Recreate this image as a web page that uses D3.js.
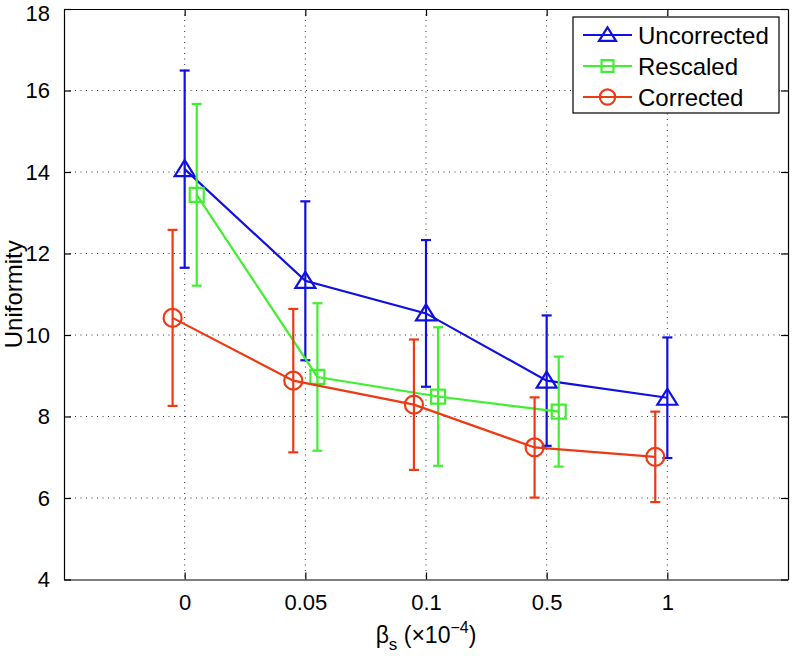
<!DOCTYPE html>
<html><head><meta charset="utf-8">
<script src="https://cdn.jsdelivr.net/npm/d3@7/dist/d3.min.js"></script>
<style>body{margin:0;background:#fff;} text{font-family:"Liberation Sans",Arial,Helvetica,sans-serif;fill:#000;}</style>
</head><body>
<svg id="c" width="792" height="656"></svg>
<script>
const categories = ["0", "0.05", "0.1", "0.5", "1"];
const yTicks = [4, 6, 8, 10, 12, 14, 16, 18];
const seriesNames = ["Uncorrected", "Rescaled", "Corrected"];
const uncorrected = [14.07, 11.33, 10.53, 8.88, 8.46];
const uncorrectedErr = [2.42, 1.95, 1.80, 1.60, 1.48];
const rescaled = [13.44, 8.97, 8.49, 8.12];
const rescaledErr = [2.23, 1.81, 1.70, 1.35];
const corrected = [10.42, 8.88, 8.29, 7.24, 7.01];
const correctedErr = [2.16, 1.76, 1.60, 1.23, 1.11];

const m = {left: 64, right: 788, top: 9, bottom: 579.5};
const svg = d3.select("#c");
const x = d3.scaleLinear().domain([-1, 5]).range([m.left, m.right]);
const y = d3.scaleLinear().domain([4, 18]).range([m.bottom, m.top]);

// grid
const grid = svg.append("g");
grid.selectAll(".gx").data(categories).enter().append("line")
  .attr("x1", (d,i)=>x(i)).attr("x2", (d,i)=>x(i)).attr("y1", m.top).attr("y2", m.bottom)
  .attr("stroke", "#333").attr("stroke-width", 1).attr("stroke-dasharray", "1,4.5");
grid.selectAll(".gy").data(yTicks.slice(1, -1)).enter().append("line")
  .attr("y1", d=>y(d)).attr("y2", d=>y(d)).attr("x1", m.left).attr("x2", m.right)
  .attr("stroke", "#333").attr("stroke-width", 1).attr("stroke-dasharray", "1,4.5");

// axes (box with inward ticks)
const tl = 7;
const xAxisB = d3.axisBottom(x).tickValues(d3.range(categories.length)).tickFormat(i=>categories[i]).tickSizeInner(-tl).tickSizeOuter(0).tickPadding(15);
const xAxisT = d3.axisTop(x).tickValues(d3.range(categories.length)).tickFormat("").tickSizeInner(-tl).tickSizeOuter(0);
const yAxisL = d3.axisLeft(y).tickValues(yTicks).tickFormat(d3.format("d")).tickSizeInner(-tl).tickSizeOuter(0).tickPadding(14);
const yAxisR = d3.axisRight(y).tickValues(yTicks).tickFormat("").tickSizeInner(-tl).tickSizeOuter(0);
function styleAxis(g){ g.selectAll("path,line").attr("stroke","#000").attr("stroke-width",1.2); g.selectAll("text").style("font-size","22px").style("font-family","Liberation Sans, Arial, sans-serif"); }
svg.append("g").attr("transform",`translate(0,${m.bottom})`).call(xAxisB).call(styleAxis);
svg.append("g").attr("transform",`translate(0,${m.top})`).call(xAxisT).call(styleAxis);
svg.append("g").attr("transform",`translate(${m.left},0)`).call(yAxisL).call(styleAxis);
svg.append("g").attr("transform",`translate(${m.right},0)`).call(yAxisR).call(styleAxis);
// keep top label inside the canvas
svg.selectAll("g text").filter(function(){ return this.textContent === "18"; }).attr("dy", "0.5em");

// axis labels
svg.append("text").attr("transform",`translate(22,${(m.top+m.bottom)/2}) rotate(-90)`)
  .attr("text-anchor","middle").style("font-size","24px").text("Uniformity");
const xl = svg.append("text").attr("x", (m.left+m.right)/2).attr("y", 643).attr("text-anchor","middle").style("font-size","23px");
xl.append("tspan").text("β");
xl.append("tspan").attr("dy", 7).style("font-size","17px").text("s");
xl.append("tspan").attr("dy", -7).text(" (×10");
xl.append("tspan").attr("dy", -10).style("font-size","16px").text("−4");
xl.append("tspan").attr("dy", 10).text(")");

// series
const tri = "M0,-9L10,7L-10,7Z";
const sq = "M-7,-7L7,-7L7,7L-7,7Z";
const series = [
  {name: seriesNames[0], vals: uncorrected, err: uncorrectedErr, color: "#1010e0", off: 0, marker: "tri"},
  {name: seriesNames[1], vals: rescaled, err: rescaledErr, color: "#40f030", off: 0.1, marker: "sq"},
  {name: seriesNames[2], vals: corrected, err: correctedErr, color: "#ee3a14", off: -0.1, marker: "circ"}
];
function drawMarker(g, type, color, cx, cy, scale){
  scale = scale || 1;
  if (type === "circ") {
    g.append("circle").attr("cx",cx).attr("cy",cy).attr("r",9*scale).attr("fill","none").attr("stroke",color).attr("stroke-width",2.2);
  } else {
    g.append("path").attr("d", type==="tri"? tri : sq).attr("transform",`translate(${cx},${cy}) scale(${scale})`)
      .attr("fill","none").attr("stroke",color).attr("stroke-width",2.2/scale).attr("stroke-linejoin","miter");
  }
}
const line = d3.line().x(d=>x(d.i + d.off)).y(d=>y(d.v));
series.forEach(s=>{
  const g = svg.append("g");
  const pts = s.vals.map((v,i)=>({i, v, e: s.err[i], off: s.off}));
  pts.forEach(p=>{
    const cx = x(p.i + p.off);
    g.append("line").attr("x1",cx).attr("x2",cx).attr("y1",y(p.v-p.e)).attr("y2",y(p.v+p.e)).attr("stroke",s.color).attr("stroke-width",2.2);
    [p.v-p.e, p.v+p.e].forEach(yy=>{
      g.append("line").attr("x1",cx-5).attr("x2",cx+5).attr("y1",y(yy)).attr("y2",y(yy)).attr("stroke",s.color).attr("stroke-width",2.2);
    });
  });
  g.append("path").datum(pts).attr("d", line).attr("fill","none").attr("stroke", s.color).attr("stroke-width", 2.2);
  pts.forEach(p=> drawMarker(g, s.marker, s.color, x(p.i+p.off), y(p.v)));
});

// legend
const lg = svg.append("g");
lg.append("rect").attr("x",573).attr("y",17).attr("width",206).attr("height",96).attr("fill","#fff").attr("stroke","#000").attr("stroke-width",1.2);
series.forEach((s,k)=>{
  const ly = 35 + k*31;
  lg.append("line").attr("x1",583).attr("x2",632).attr("y1",ly).attr("y2",ly).attr("stroke",s.color).attr("stroke-width",2.2);
  drawMarker(lg, s.marker, s.color, 607.5, ly, 0.85);
  lg.append("text").attr("x",638).attr("y",ly).attr("dy","0.36em").style("font-size","24px").text(s.name);
});
</script>
</body></html>
